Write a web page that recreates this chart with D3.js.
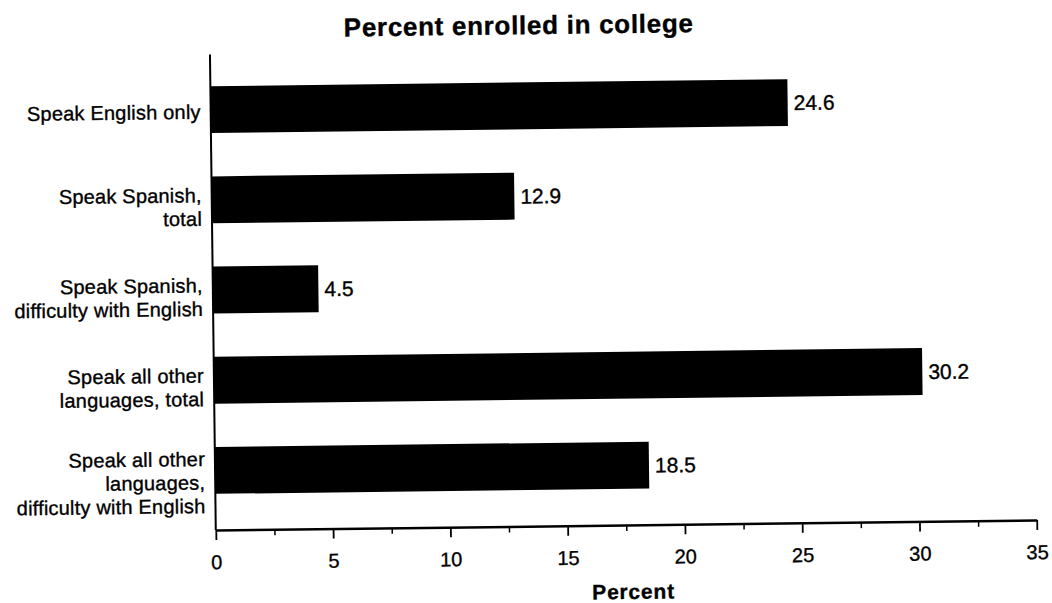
<!DOCTYPE html>
<html>
<head>
<meta charset="utf-8">
<script src="https://cdn.jsdelivr.net/npm/d3@7"></script>
<style>
  html, body { margin: 0; padding: 0; background: #fff; }
  svg { display: block; }
  text { font-family: "Liberation Sans", Arial, Helvetica, sans-serif; fill: #000; stroke: #000; stroke-width: 0.35px; }
</style>
</head>
<body>
<svg id="chart" width="1052" height="603"></svg>
<script>
// Enrollment by language group
const categories = [
  ["Speak English only"],
  ["Speak Spanish,", "total"],
  ["Speak Spanish,", "difficulty with English"],
  ["Speak all other", "languages, total"],
  ["Speak all other", "languages,", "difficulty with English"]
];
const values = [24.6, 12.9, 4.5, 30.2, 18.5];
const valueLabels = ["24.6", "12.9", "4.5", "30.2", "18.5"];
const majorTicks = [0, 5, 10, 15, 20, 25, 30, 35];
const minorTicks = [2.5, 7.5, 12.5, 17.5, 22.5, 27.5, 32.5];
const title = "Percent enrolled in college";
const xTitle = "Percent";

const svg = d3.select("#chart");
// whole sheet sits slightly tilted
const root = svg.append("g").attr("transform", "rotate(-0.7, 625, 300)");

const left = 213, right = 1034, axisY = 525;
const x = d3.scaleLinear().domain([0, 35]).range([left, right]);
const y = d3.scaleBand()
  .domain(d3.range(values.length))
  .range([59.5, 510.5])
  .paddingInner(0.48)
  .paddingOuter(0.24);

// title
root.append("text")
  .attr("x", 522).attr("y", 33)
  .attr("text-anchor", "middle")
  .style("font-size", "26px").style("font-weight", "bold")
  .style("letter-spacing", "0.7px")
  .text(title);

// bars
root.append("g").selectAll("rect")
  .data(values)
  .join("rect")
  .attr("x", x(0))
  .attr("y", (d, i) => y(i))
  .attr("width", d => x(d) - x(0))
  .attr("height", y.bandwidth())
  .attr("fill", "#000");

// value labels
root.append("g").selectAll("text")
  .data(values)
  .join("text")
  .attr("x", d => x(d) + 6)
  .attr("y", (d, i) => y(i) + y.bandwidth() / 2)
  .attr("dy", "0.36em")
  .style("font-size", "21px")
  .text((d, i) => valueLabels[i]);

// category labels
const lh = 23.5;
const cat = root.append("g").selectAll("text")
  .data(categories)
  .join("text")
  .attr("text-anchor", "end")
  .style("font-size", "20px")
  .style("letter-spacing", "0.2px");
cat.each(function(lines, i) {
  const c = y(i) + y.bandwidth() / 2;
  const n = lines.length;
  d3.select(this).selectAll("tspan")
    .data(lines)
    .join("tspan")
    .attr("x", left - 10)
    .attr("y", (l, j) => c + (j - (n - 1) / 2) * lh + 5 * (n - 1) + 2)
    .attr("dy", "0.35em")
    .text(l => l);
});

// vertical axis line
root.append("line")
  .attr("x1", x(0)).attr("x2", x(0))
  .attr("y1", y.range()[0] - 10).attr("y2", axisY)
  .attr("stroke", "#000").attr("stroke-width", 2);

// x axis: major ticks with labels
const xAxis = d3.axisBottom(x)
  .tickValues(majorTicks)
  .tickSize(10)
  .tickSizeOuter(0)
  .tickPadding(15)
  .tickFormat(d3.format("d"));
const gx = root.append("g")
  .attr("transform", `translate(0,${axisY})`)
  .call(xAxis);
gx.select(".domain").attr("stroke", "#000").attr("stroke-width", 2.5);
gx.selectAll(".tick line").attr("stroke", "#000").attr("stroke-width", 1.8);
gx.selectAll(".tick text")
  .style("font-size", "20px")
  .style("font-family", "'Liberation Sans', Arial, Helvetica, sans-serif")
  .attr("fill", "#000");

// minor ticks
root.append("g")
  .attr("transform", `translate(0,${axisY})`)
  .call(d3.axisBottom(x).tickValues(minorTicks).tickSize(6).tickSizeOuter(0).tickFormat(""))
  .call(g => g.select(".domain").remove())
  .selectAll(".tick line").attr("stroke", "#000").attr("stroke-width", 1.5);

// axis title
root.append("text")
  .attr("x", 630).attr("y", 599)
  .attr("text-anchor", "middle")
  .style("font-size", "21px").style("font-weight", "bold")
  .style("letter-spacing", "0.8px")
  .text(xTitle);
</script>
</body>
</html>
